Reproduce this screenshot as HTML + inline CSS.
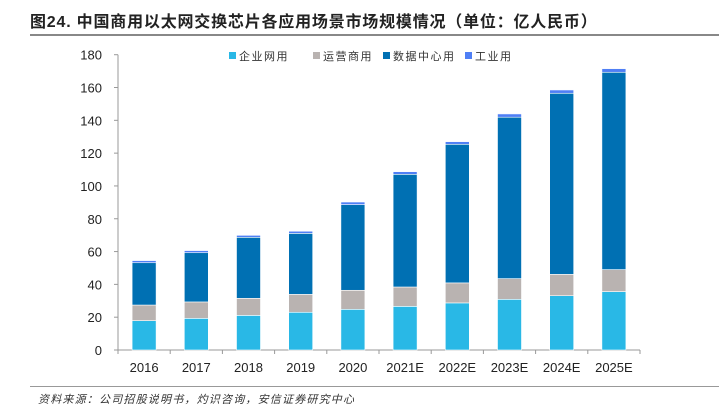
<!DOCTYPE html>
<html><head><meta charset="utf-8"><style>
body{margin:0;background:#fff;width:719px;height:414px;overflow:hidden;font-family:"Liberation Sans","Noto Sans CJK SC",sans-serif}
#title{position:absolute;left:30px;top:8px;font-size:16px;font-weight:bold;color:#222;letter-spacing:0.8px}
#tline{position:absolute;left:30px;top:34px;width:690px;height:2px;background:#888}
#src{position:absolute;left:38px;top:391px;font-size:11px;font-style:italic;color:#333;letter-spacing:1.2px}
#sline{position:absolute;left:30px;top:386px;width:690px;height:1px;background:#999}
svg{position:absolute;left:0;top:0}
</style></head><body>
<div id="title">图24. 中国商用以太网交换芯片各应用场景市场规模情况（单位：亿人民币）</div>
<div id="tline"></div>
<svg id="chart" width="719" height="414"></svg>
<div id="sline"></div>
<div id="src">资料来源：公司招股说明书，灼识咨询，安信证券研究中心</div>
<script>
const categories=["2016","2017","2018","2019","2020","2021E","2022E","2023E","2024E","2025E"];
const enterprise=[17.9,19.3,21.1,23,24.8,26.6,28.7,30.9,33.1,35.6];
const operator=[9.5,10,10.4,10.9,11.6,11.8,12.2,12.6,13,13.4];
const datacenter=[25.8,30,37.2,37.2,52.2,68.7,84.5,98.4,110.4,120.3];
const industrial=[1.3,1.3,1.2,1.3,1.6,1.6,1.6,2,2,2.2];
const yTicks=[0,20,40,60,80,100,120,140,160,180];
const seriesNames=["企业网用","运营商用","数据中心用","工业用"];
const colors=["#29b8e6","#b9b3b1","#0070b3","#4f7ff5"];
const series=[enterprise,operator,datacenter,industrial];
const svg=document.getElementById('chart');const NS="http://www.w3.org/2000/svg";
const X0=118,X1=640,Y0=350,Y1=54.7,YMAX=180;
const y=v=>Y0-(v/YMAX)*(Y0-Y1);
const bw=(X1-X0)/categories.length;
const x=i=>X0+bw*(i+0.5);
function mk(t,a){const e=document.createElementNS(NS,t);for(const k in a)e.setAttribute(k,a[k]);svg.appendChild(e);return e;}
let ax=mk('line',{x1:X0,x2:X0,y1:Y1,y2:Y0,stroke:'#999','stroke-width':1});

yTicks.forEach(t=>{
 let l=mk('line',{x1:X0-4,x2:X0,y1:y(t),y2:y(t),stroke:'#999'});
 
 let tx=mk('text',{x:X0-16,y:y(t)+5,'text-anchor':'end','font-size':13,fill:'#222'});tx.textContent=t;
 
});
let xa=mk('line',{x1:X0,x2:X1,y1:Y0,y2:Y0,stroke:'#999'});

for(let i=0;i<=categories.length;i++){let l=mk('line',{x1:X0+bw*i,x2:X0+bw*i,y1:Y0,y2:Y0+4,stroke:'#999'});
 }
categories.forEach((c,i)=>{
 let cum=0;
 series.forEach((s,k)=>{
  const r=mk('rect',{x:x(i)-12,y:y(cum+s[i]),width:24,height:y(cum)-y(cum+s[i]),fill:colors[k],stroke:'#fff','stroke-width':0.6});
  
  cum+=s[i];
 });
 const t=mk('text',{x:x(i),y:Y0+22,'text-anchor':'middle','font-size':13,fill:'#222'});t.textContent=c;
 
});
const lx=[229,313,383,465];
seriesNames.forEach((n,k)=>{
 const g=mk('g',{});
 const r=document.createElementNS(NS,'rect');r.setAttribute('x',lx[k]);r.setAttribute('y',52);r.setAttribute('width',7);r.setAttribute('height',7);r.setAttribute('fill',colors[k]);g.appendChild(r);
 const t=document.createElementNS(NS,'text');t.setAttribute('x',lx[k]+10);t.setAttribute('y',60);t.setAttribute('font-size',11);t.setAttribute('fill','#333');t.setAttribute('letter-spacing','1.5');t.textContent=n;g.appendChild(t);
});
</script>
</body></html>
